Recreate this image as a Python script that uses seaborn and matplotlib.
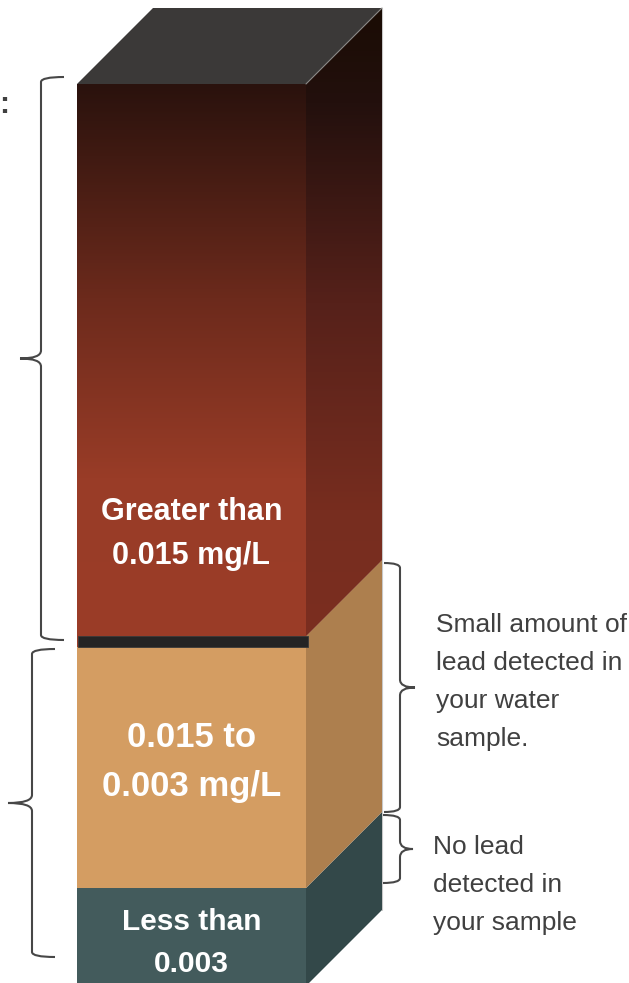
import numpy as np
import matplotlib.pyplot as plt
import seaborn as sns
from matplotlib.patches import Polygon, PathPatch
from matplotlib.path import Path
from matplotlib.colors import LinearSegmentedColormap

# segments of the column, from bottom to top
levels = ["Less than\n0.003", "0.015 to\n0.003 mg/L", "Greater than\n0.015 mg/L"]
heights = [98, 241, 563]
front_colors = ["#435b5c", "#d49d62", "#9a3c27"]
side_colors = ["#334849", "#ad7f4e", "#7a2e20"]
label_sizes = [21.5, 25, 22]

notes = ["No lead\ndetected in\nyour sample",
         "Small amount of\nlead detected in\nyour water\nsample."]

sns.set_theme(style="white")
plt.rcParams['font.family'] = ['Liberation Sans Narrow', 'Liberation Sans', 'DejaVu Sans']

fig = plt.figure(figsize=(6.29, 9.83), dpi=100)
ax = fig.add_axes([0, 0, 1, 1])

xc, w, depth, band = 191.5, 229, 76, 11
x0, x1 = xc - w / 2, xc + w / 2

bottoms = np.concatenate([[0], np.cumsum(heights)[:-1]])
bars = []
for h, b, c in zip(heights, bottoms, front_colors):
    sns.barplot(x=[xc], y=[h], bottom=b, native_scale=True, width=w, color=c,
                saturation=1, errorbar=None, edgecolor="none", ax=ax, zorder=2)
    bars.append(ax.patches[-1])

# gradient on the top segment (front)
red_front = LinearSegmentedColormap.from_list(
    "rf", [(0, "#9b3d28"), (0.3, "#993c27"), (0.62, "#6c2a1c"), (1, "#2a120d")])
top_bar = bars[-1]
yb, yt = top_bar.get_y(), top_bar.get_y() + top_bar.get_height()
grad = np.linspace(0, 1, 256).reshape(-1, 1)
im = ax.imshow(grad, extent=[x0, x1, yb, yt], origin="lower", aspect="auto",
               cmap=red_front, zorder=3)
im.set_clip_path(top_bar)

# side faces
side_bounds = [(0, bottoms[1]), (bottoms[1], bottoms[2] + band),
               (bottoms[2] + band, bottoms[2] + heights[2])]
sides = []
for (s0, s1), c in zip(side_bounds, side_colors):
    poly = Polygon([(x1, s0), (x1 + depth, s0 + depth), (x1 + depth, s1 + depth), (x1, s1)],
                   closed=True, facecolor=c, edgecolor="none", zorder=2)
    ax.add_patch(poly)
    sides.append(poly)

red_side = LinearSegmentedColormap.from_list(
    "rs", [(0, "#7b2e20"), (0.2, "#772d1f"), (0.53, "#56211a"), (0.85, "#23100d"), (1, "#1a0c04")])
s0, s1 = side_bounds[2]
im2 = ax.imshow(grad, extent=[x1, x1 + depth, s0, s1 + depth], origin="lower", aspect="auto",
                cmap=red_side, zorder=3)
im2.set_clip_path(sides[2])

# top face
top = bottoms[2] + heights[2]
ax.add_patch(Polygon([(x0, top), (x0 + depth, top + depth), (x1 + depth, top + depth), (x1, top)],
                     closed=True, facecolor="#3b3938", edgecolor="none", zorder=4))
ax.plot([x1, x1 + depth], [top, top + depth], color="#8a8886", lw=0.8, zorder=5)
ax.plot([x1 + depth, x1 + depth], [top + depth, depth], color="#c8c8c8", lw=0.8, zorder=1)

# dark separator between the upper two segments
ax.add_patch(Polygon([(x0 + 1, bottoms[2]), (x1 + 2, bottoms[2]), (x1 + 2, bottoms[2] + band),
                      (x0 + 1, bottoms[2] + band)], closed=True, facecolor="#242424",
                     edgecolor="#3a3a3a", lw=0.6, zorder=5))

# segment labels
label_y = [43, 224, 452]
spacing = [1.65, 1.6, 1.6]
for lab, y, fs, ls in zip(levels, label_y, label_sizes, spacing):
    ax.text(xc, y, lab, color="white", fontsize=fs, fontweight="bold", ha="center",
            va="center", linespacing=ls, zorder=6)


def brace(x_end, x_mid, x_tip, y_top, y_bot, r=5, rt=8):
    y_tip = (y_top + y_bot) / 2
    verts = [(x_end, y_top), (x_mid, y_top), (x_mid, y_top - r),
             (x_mid, y_tip + rt), (x_mid, y_tip), (x_tip, y_tip),
             (x_mid, y_tip), (x_mid, y_tip - rt),
             (x_mid, y_bot + r), (x_mid, y_bot), (x_end, y_bot)]
    codes = [Path.MOVETO, Path.CURVE3, Path.CURVE3, Path.LINETO, Path.CURVE3, Path.CURVE3,
             Path.CURVE3, Path.CURVE3, Path.LINETO, Path.CURVE3, Path.CURVE3]
    ax.add_patch(PathPatch(Path(verts, codes), facecolor="none", edgecolor="#474747",
                           lw=1.5, zorder=6))


brace(64, 41, 20, top + 7, bottoms[2] + 7)
brace(55, 32, 8, bottoms[2] - 2, 29)
brace(384, 400, 415, side_bounds[1][1] + depth - 3, bottoms[1] + depth)
brace(383, 400, 413, bottoms[1] + depth - 3, 103)

ax.text(436, 304, notes[1], color="#404040", fontsize=19, ha="left", va="center",
        linespacing=1.72, zorder=6)
ax.text(433, 101, notes[0], color="#404040", fontsize=19, ha="left", va="center",
        linespacing=1.72, zorder=6)
ax.text(-1, 881, ":", color="#404040", fontsize=22, fontweight="bold", ha="left",
        va="center", zorder=6)

ax.set_xlim(0, 629)
ax.set_ylim(3, 986)
ax.set_axis_off()
fig.savefig("out.png", dpi=100)
